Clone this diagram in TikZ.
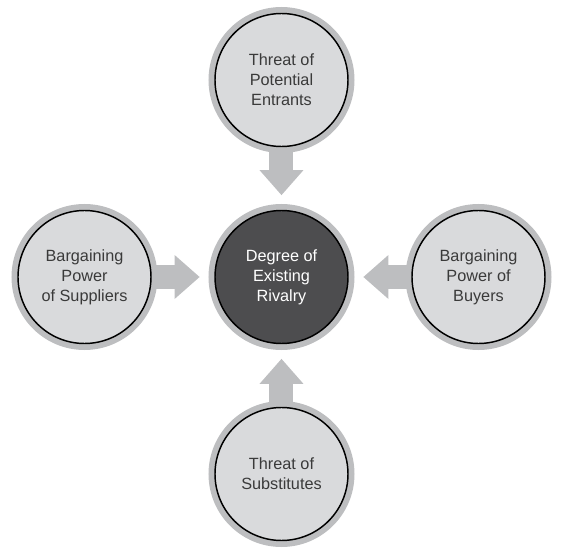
\documentclass[tikz,border=0pt]{standalone}
\usepackage{fontspec}
\setmainfont{Liberation Sans}
\usetikzlibrary{arrows.meta,positioning}
\definecolor{ringgray}{HTML}{BDBEC0}
\definecolor{facegray}{HTML}{D9DADC}
\definecolor{coregray}{HTML}{4D4D4F}
\definecolor{textgray}{HTML}{3A3A3A}

\begin{document}
\begin{tikzpicture}[node distance=147.75pt,on grid,
    force/.style={circle,draw=black,line width=1.1pt,fill=facegray,
      minimum size=99.75pt,inner sep=0pt,align=center,text=textgray,
      font=\fontsize{12.2}{15}\selectfont,
      preaction={draw=ringgray,line width=9.75pt}},
    rivalry/.style={force,fill=coregray,text=white},
    push/.style={color=ringgray,line width=18pt,shorten <=0.3pt,shorten >=11pt,
      -{Triangle[width=33pt,length=18.75pt,line width=0pt,fill=ringgray]}}]
                      \useasboundingbox (-211.125pt,-210pt) rectangle (209.625pt,207.75pt);
                      \node[rivalry] (rivalry) {Degree of\\Existing\\Rivalry};
                      \node[force] (entrants) [above=of rivalry] {Threat of\\Potential\\Entrants};
                      \node[force] (suppliers) [left=of rivalry] {Bargaining\\Power\\of Suppliers};
                      \node[force] (buyers) [right=of rivalry] {Bargaining\\Power of\\Buyers};
                      \node[force] (substitutes) [below=of rivalry] {Threat of\\Substitutes};
                      \path[push]
                      (entrants) edge (rivalry)
                      (suppliers) edge (rivalry)
                      (buyers) edge (rivalry)
                      (substitutes) edge (rivalry);
                  \end{tikzpicture}
\end{document}
